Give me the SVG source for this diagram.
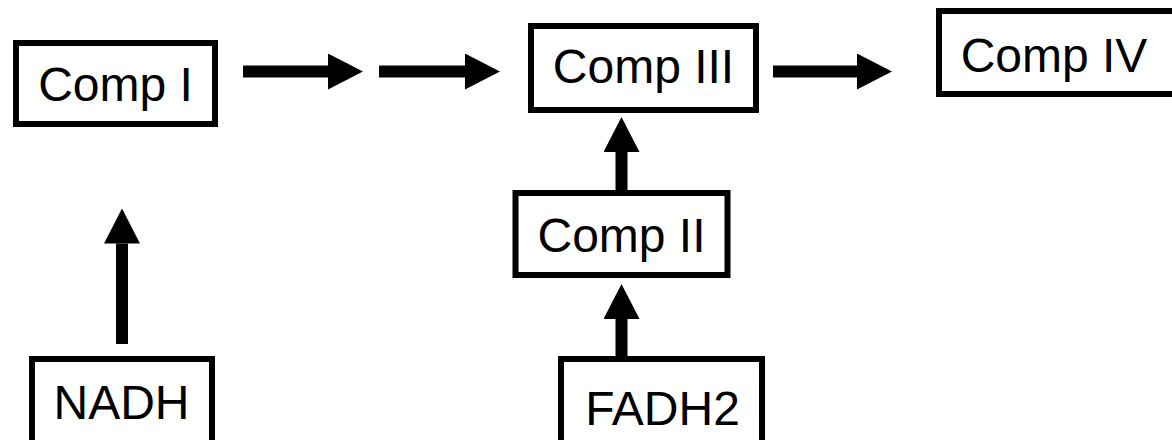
<svg xmlns="http://www.w3.org/2000/svg" width="1172" height="440" viewBox="0 0 1172 440">
<style>
.box{fill:#fff;stroke:#000;stroke-width:6}
.lbl{font-family:"Liberation Sans",Arial,sans-serif;font-size:48px;fill:#000;text-anchor:middle}
.conn{stroke:#000;stroke-width:12;fill:none;marker-end:url(#ah)}
</style>
<defs>
<marker id="ah" markerUnits="userSpaceOnUse" markerWidth="36" markerHeight="36" refX="0" refY="18" orient="auto" viewBox="0 0 36 36">
<path d="M0,0 L35,18 L0,36 Z" fill="#000"/>
</marker>
</defs>
<rect width="1172" height="440" fill="#fff"/>
<g id="connectors">
<line class="conn" x1="243" y1="71.5" x2="328" y2="71.5"/>
<line class="conn" x1="379" y1="71.5" x2="465" y2="71.5"/>
<line class="conn" x1="773" y1="71.5" x2="857" y2="71.5"/>
<line class="conn" x1="122" y1="344" x2="122" y2="243.5"/>
<line class="conn" x1="621.5" y1="190" x2="621.5" y2="152"/>
<line class="conn" x1="621.5" y1="357" x2="621.5" y2="319"/>
</g>
<g id="comp1"><rect class="box" x="16" y="43" width="199" height="81"/><text class="lbl" x="115.5" y="101">Comp I</text></g>
<g id="comp3"><rect class="box" x="531" y="26" width="225" height="84"/><text class="lbl" x="643.5" y="83">Comp III</text></g>
<g id="comp4"><rect class="box" x="939" y="11" width="300" height="83"/><text class="lbl" x="1054" y="71.5">Comp IV</text></g>
<g id="comp2"><rect class="box" x="515.5" y="193" width="212" height="82"/><text class="lbl" x="621.5" y="251.5">Comp II</text></g>
<g id="nadh"><rect class="box" x="32" y="359" width="180" height="90"/><text class="lbl" x="121.5" y="419">NADH</text></g>
<g id="fadh2"><rect class="box" x="561" y="359" width="201" height="90"/><text class="lbl" x="662.5" y="424.5">FADH2</text></g>
</svg>
